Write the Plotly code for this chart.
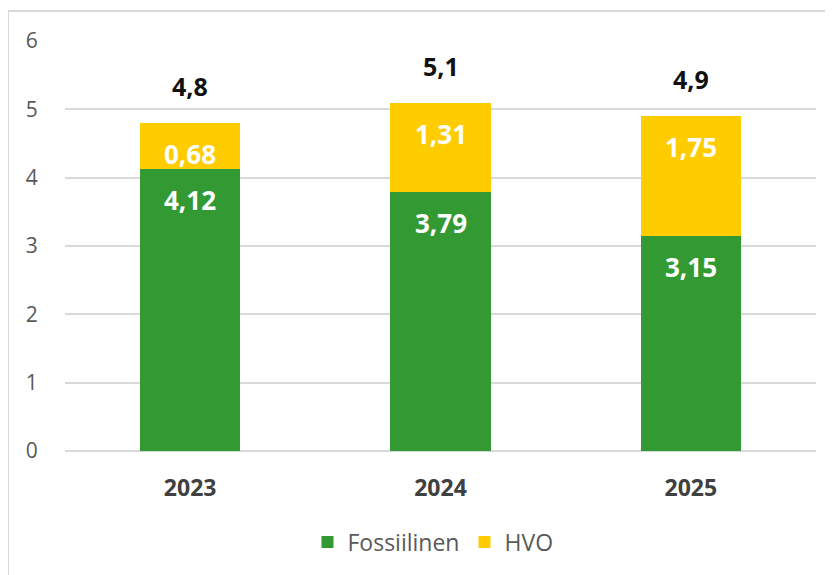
"""
Fossiilinen vs HVO – stacked bar chart
"""

import plotly.graph_objects as go

# Data
YEARS = ['2023', '2024', '2025']
FOSSIILINEN = [4.12, 3.79, 3.15]
HVO = [0.68, 1.31, 1.75]
Y_TICKS = [0, 1, 2, 3, 4, 5, 6]

# Style
GREEN = '#339933'
YELLOW = '#FFCC00'
GRID = '#d9d9d9'
FONT = 'Open Sans'


def fmt(v, dec):
    return f'{v:.{dec}f}'.replace('.', ',')


def main():
    totals = [f + h for f, h in zip(FOSSIILINEN, HVO)]

    fig = go.Figure()
    fig.add_trace(go.Bar(name='Fossiilinen', x=YEARS, y=FOSSIILINEN,
                         marker=dict(color=GREEN, line=dict(width=0))))
    fig.add_trace(go.Bar(name='HVO', x=YEARS, y=HVO,
                         marker=dict(color=YELLOW, line=dict(width=0))))

    # Segment labels (inside end) + totals; x given as category index,
    # otherwise '2023' is read as a number and blows up the x range
    for i, (f, h, t) in enumerate(zip(FOSSIILINEN, HVO, totals)):
        fig.add_annotation(x=i, y=f, text=f'<b>{fmt(f, 2)}</b>', showarrow=False,
                           yshift=-31, font=dict(family=FONT, size=26, color='white'))
        fig.add_annotation(x=i, y=t, text=f'<b>{fmt(h, 2)}</b>', showarrow=False,
                           yshift=-31, font=dict(family=FONT, size=26, color='white'))
        fig.add_annotation(x=i, y=t, text=f'<b>{fmt(t, 1)}</b>', showarrow=False,
                           yshift=37, font=dict(family=FONT, size=25, color='#111111'))

    # Chart border (partially cropped like the original)
    fig.add_shape(type='rect', xref='paper', yref='paper',
                  x0=-0.0759, x1=1.1, y0=-0.5, y1=1.0732,
                  line=dict(color=GRID, width=2), fillcolor='rgba(0,0,0,0)', layer='below')

    # page body adds an 8px margin, so the figure is 8px smaller than the window
    fig.update_layout(
        width=825, height=567,
        margin=dict(l=57, r=17, t=33, b=124, autoexpand=False),
        barmode='stack',
        bargap=0.6,
        plot_bgcolor='white',
        paper_bgcolor='white',
        font=dict(family=FONT, color='#595959'),
        showlegend=True,
        legend=dict(orientation='h', x=0.49, xanchor='center', y=-0.222, yanchor='middle',
                    font=dict(family=FONT, size=23, color='#595959'),
                    traceorder='normal'),
        xaxis=dict(type='category', showgrid=False, showline=False, zeroline=False,
                   ticks='outside', ticklen=16, tickcolor='rgba(0,0,0,0)',
                   tickfont=dict(family=FONT, size=23, color='#404040'),
                   automargin=False),
        yaxis=dict(range=[0, 6], tickvals=Y_TICKS, showgrid=True, gridcolor=GRID, gridwidth=2,
                   zeroline=True, zerolinecolor=GRID, zerolinewidth=2, showline=False,
                   ticks='outside', ticklen=22, tickcolor='rgba(0,0,0,0)',
                   tickfont=dict(family=FONT, size=21, color='#595959'),
                   automargin=False),
    )
    fig.update_xaxes(ticktext=[f'<b>{y}</b>' for y in YEARS], tickvals=YEARS)

    fig.write_html('out.html')


if __name__ == '__main__':
    main()
